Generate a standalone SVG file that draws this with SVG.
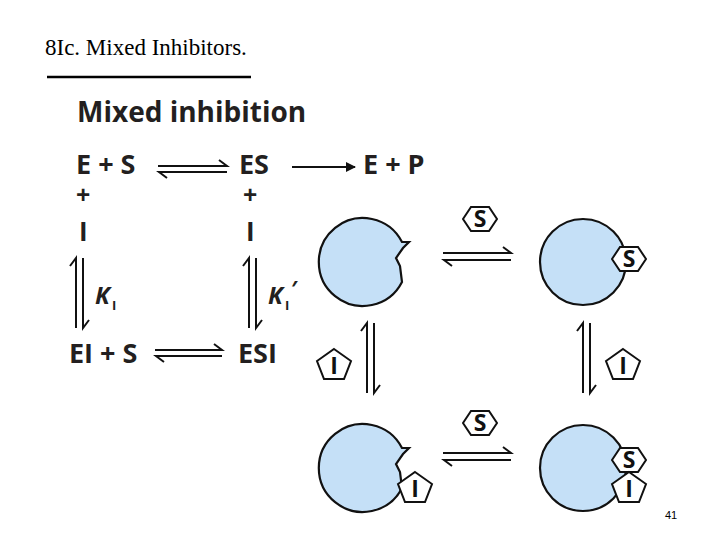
<svg xmlns="http://www.w3.org/2000/svg" width="720" height="540" viewBox="0 0 720 540">
<style>
.t{font-family:"Open Sans","DejaVu Sans",sans-serif;font-weight:bold;fill:#231f20}
.e{fill:#c5e0f7;stroke:#111;stroke-width:2.2}
.a{fill:none;stroke:#111;stroke-width:2}
.h{fill:#fff;stroke:#111;stroke-width:2}
.l{font-family:"Open Sans","DejaVu Sans",sans-serif;font-weight:bold;font-size:23px;text-anchor:middle;fill:#111}
</style>
<defs>
<path id="hex" d="M-17,0 L-9,-12 L9,-12 L17,0 L9,12 L-9,12 Z"/>
<path id="pent" d="M0,-15 L17,-3 L10,15 L-10,15 L-17,-3 Z"/>
<path id="free" d="M402,282 A44,44 0 1 1 402,242 L409,242 L403,248 L396,258 L400,266 Z"/>
</defs>
<text x="45" y="55" font-family="Liberation Serif,serif" font-size="23" fill="#000">8Ic. Mixed Inhibitors.</text>
<line x1="47" y1="77" x2="251" y2="77" stroke="#000" stroke-width="2.5"/>
<text x="665" y="519" font-family="Liberation Sans,sans-serif" font-size="11" fill="#000">41</text>
<g id="scheme">
<text class="t" x="77" y="122" font-size="28">Mixed inhibition</text>
<text class="t" x="76" y="174" font-size="27">E + S</text>
<text class="t" x="239" y="174" font-size="27">ES</text>
<text class="t" x="363" y="174" font-size="27">E + P</text>
<text class="t" x="76" y="204" font-size="25">+</text>
<text class="t" x="243" y="204" font-size="25">+</text>
<text class="t" x="79" y="241" font-size="26">I</text>
<text class="t" x="246" y="241" font-size="26">I</text>
<text class="t" x="69" y="363" font-size="27">EI + S</text>
<text class="t" x="238" y="363" font-size="27">ESI</text>
<text class="t" x="95" y="304" font-size="24" font-style="italic">K</text>
<text class="t" x="112" y="310" font-size="13">I</text>
<text class="t" x="268" y="304" font-size="24" font-style="italic">K</text>
<text class="t" x="285" y="310" font-size="13">I</text>
<text class="t" x="291" y="296" font-size="22">′</text>
</g>
<g id="connectors">
<path class="a" d="M158,166 H227 L219,160 M227,172 H159 L167,178"/>
<path class="a" d="M292,167 H355"/><path d="M356,167 L346,162 L346,172 Z" fill="#111"/>
<path class="a" d="M76,328 V258 L70,266 M83,258 V328 L89,320"/>
<path class="a" d="M249,328 V258 L243,266 M256,258 V328 L262,320"/>
<path class="a" d="M155,350 H222 L214,344 M222,356 H156 L164,362"/>
<path class="a" d="M443,253 H511 L503,247 M511,260 H444 L452,266"/>
<path class="a" d="M443,453 H511 L503,447 M511,460 H444 L452,466"/>
<path class="a" d="M367,393 V323 L361,331 M374,323 V393 L380,385"/>
<path class="a" d="M583,393 V323 L577,331 M590,323 V393 L596,385"/>
</g>
<g id="E"><use href="#free" class="e"/></g>
<g id="ES"><circle class="e" cx="583" cy="262" r="43"/><use href="#hex" class="h" transform="translate(629,259)"/><text class="l" x="629" y="267">S</text></g>
<g id="EI"><use href="#free" class="e" transform="translate(0,206)"/><use href="#pent" class="h" transform="translate(415,487)"/><text class="l" x="415" y="497">I</text></g>
<g id="ESI"><circle class="e" cx="583" cy="468" r="43"/><use href="#hex" class="h" transform="translate(629,460)"/><text class="l" x="629" y="468">S</text><use href="#pent" class="h" transform="translate(629,487)"/><text class="l" x="629" y="497">I</text></g>
<g id="S1"><use href="#hex" class="h" transform="translate(480,219)"/><text class="l" x="480" y="227">S</text></g>
<g id="S2"><use href="#hex" class="h" transform="translate(480,423)"/><text class="l" x="480" y="431">S</text></g>
<g id="I1"><use href="#pent" class="h" transform="translate(334,364)"/><text class="l" x="334" y="374">I</text></g>
<g id="I2"><use href="#pent" class="h" transform="translate(623,364)"/><text class="l" x="623" y="374">I</text></g>
</svg>
